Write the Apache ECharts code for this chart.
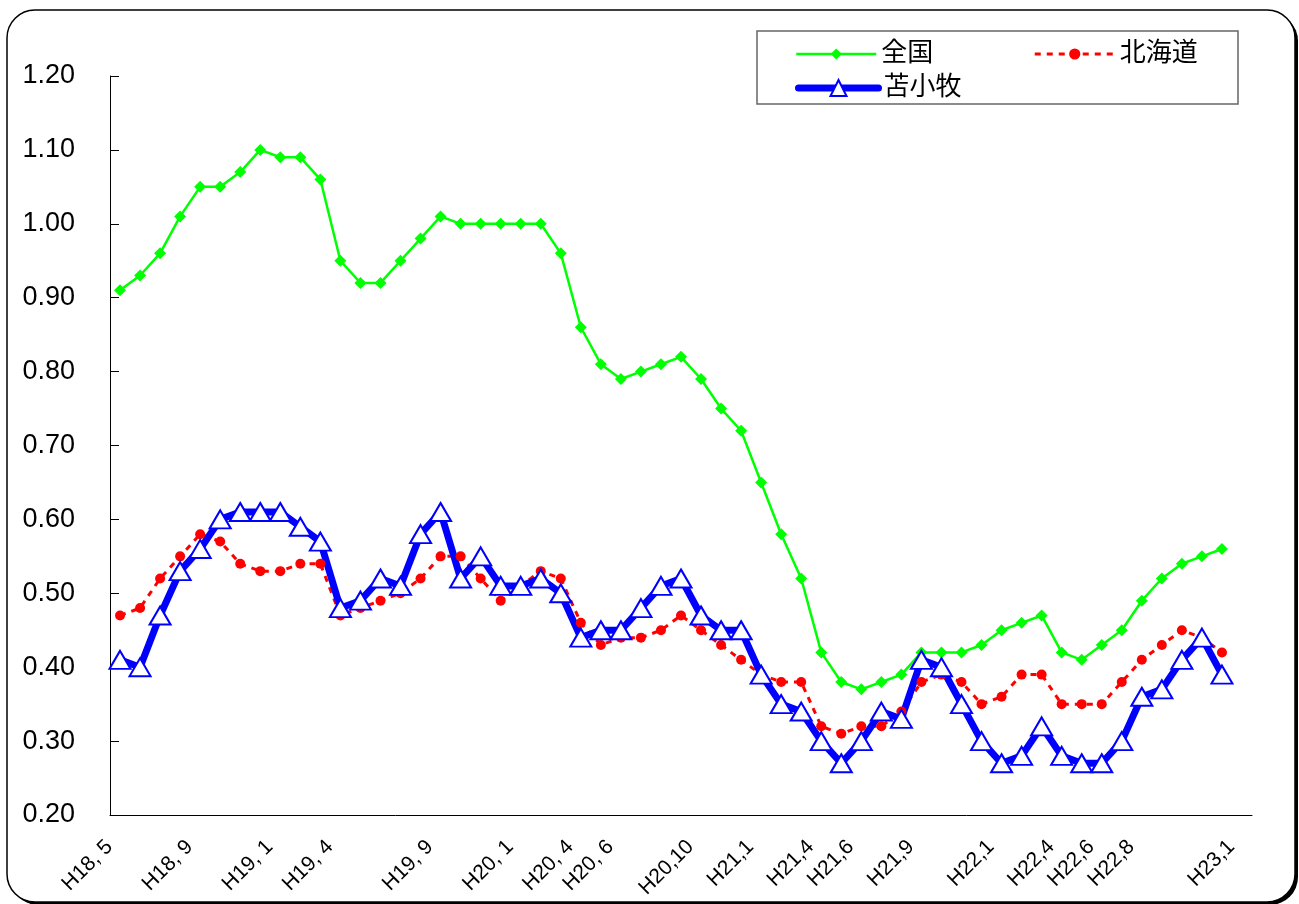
<!DOCTYPE html>
<html>
<head>
<meta charset="utf-8">
<script src="https://cdn.jsdelivr.net/npm/echarts@6/dist/echarts.min.js"></script>
<style>
html, body { margin: 0; padding: 0; background: #fff; }
#chart { width: 1299px; height: 904px; }
</style>
</head>
<body>
<div id="chart"></div>
<script>
// monthly categories H18,5 .. H23,1 (only some are labelled)
const months = [
  'H18, 5', '', '', '', 'H18, 9', '', '', '',
  'H19, 1', '', '', 'H19, 4', '', '', '', '',
  'H19, 9', '', '', '', 'H20, 1', '', '', 'H20, 4',
  '', 'H20, 6', '', '', '', 'H20,10', '', '',
  'H21,1', '', '', 'H21,4', '', 'H21,6', '', '',
  'H21,9', '', '', '', 'H22,1', '', '', 'H22,4',
  '', 'H22,6', '', 'H22,8', '', '', '', '',
  'H23,1'
]

const zenkoku = [
  0.91, 0.93, 0.96, 1.01, 1.05, 1.05, 1.07, 1.10,
  1.09, 1.09, 1.06, 0.95, 0.92, 0.92, 0.95, 0.98,
  1.01, 1.00, 1.00, 1.00, 1.00, 1.00, 0.96, 0.86,
  0.81, 0.79, 0.80, 0.81, 0.82, 0.79, 0.75, 0.72,
  0.65, 0.58, 0.52, 0.42, 0.38, 0.37, 0.38, 0.39,
  0.42, 0.42, 0.42, 0.43, 0.45, 0.46, 0.47, 0.42,
  0.41, 0.43, 0.45, 0.49, 0.52, 0.54, 0.55, 0.56
]

const hokkaido = [
  0.47, 0.48, 0.52, 0.55, 0.58, 0.57, 0.54, 0.53,
  0.53, 0.54, 0.54, 0.47, 0.48, 0.49, 0.50, 0.52,
  0.55, 0.55, 0.52, 0.49, 0.51, 0.53, 0.52, 0.46,
  0.43, 0.44, 0.44, 0.45, 0.47, 0.45, 0.43, 0.41,
  0.39, 0.38, 0.38, 0.32, 0.31, 0.32, 0.32, 0.34,
  0.38, 0.39, 0.38, 0.35, 0.36, 0.39, 0.39, 0.35,
  0.35, 0.35, 0.38, 0.41, 0.43, 0.45, 0.44, 0.42
]

const tomakomai = [
  0.41, 0.40, 0.47, 0.53, 0.56, 0.60, 0.61, 0.61,
  0.61, 0.59, 0.57, 0.48, 0.49, 0.52, 0.51, 0.58,
  0.61, 0.52, 0.55, 0.51, 0.51, 0.52, 0.50, 0.44,
  0.45, 0.45, 0.48, 0.51, 0.52, 0.47, 0.45, 0.45,
  0.39, 0.35, 0.34, 0.30, 0.27, 0.30, 0.34, 0.33,
  0.41, 0.40, 0.35, 0.30, 0.27, 0.28, 0.32, 0.28,
  0.27, 0.27, 0.30, 0.36, 0.37, 0.41, 0.44, 0.39
]

const FONT = "'Liberation Sans', 'Noto Sans CJK JP', sans-serif"
const legendText = { fontSize: 26, color: '#000', fontFamily: FONT }

const chart = echarts.init(document.getElementById('chart'))
chart.setOption({
  animation: false,
  graphic: [
    // outer frame with a small shadow, like the Excel chart area
    { type: 'rect', silent: true, shape: { x: 10, y: 13, width: 1288, height: 892, r: 28 }, style: { fill: '#000' } },
    { type: 'rect', silent: true, shape: { x: 7, y: 10, width: 1288, height: 892, r: 28 }, style: { fill: '#fff', stroke: '#000', lineWidth: 1.5 } },
    // legend box
    { type: 'rect', silent: true, shape: { x: 757, y: 31, width: 481, height: 73 }, style: { fill: '#fff', stroke: '#666', lineWidth: 1.5 } }
  ],
  legend: [
    {
      data: ['全国', '北海道'],
      left: 795,
      top: 41,
      padding: 0,
      itemWidth: 80,
      itemHeight: 14,
      itemGap: 100,
      itemTextGap: 8,
      selectedMode: false,
      lineStyle: { width: 'inherit' },
      textStyle: legendText
    },
    {
      data: ['苫小牧'],
      left: 795,
      top: 75,
      padding: 0,
      itemWidth: 80,
      itemHeight: 20,
      itemTextGap: 8,
      selectedMode: false,
      lineStyle: { width: 7, cap: 'round' },
      textStyle: legendText
    }
  ],
  grid: {
    left: 110,
    right: 47,
    top: 76,
    bottom: 89,
    containLabel: false
  },
  xAxis: {
    type: 'category',
    data: months,
    boundaryGap: true,
    axisLine: { lineStyle: { color: '#000', width: 1 } },
    axisTick: { inside: true, length: 6, interval: 0, lineStyle: { color: '#000' } },
    axisLabel: {
      interval: 0,
      rotate: 45,
      margin: 18,
      padding: [0, 15, 0, 0],
      fontSize: 21,
      color: '#000',
      fontFamily: FONT
    },
    splitLine: { show: false }
  },
  yAxis: {
    type: 'value',
    min: 0.2,
    max: 1.2,
    interval: 0.1,
    axisLine: { show: true, lineStyle: { color: '#000', width: 1 } },
    axisTick: { show: true, inside: true, length: 9, lineStyle: { color: '#000' } },
    axisLabel: {
      margin: 35,
      fontSize: 27,
      color: '#000',
      fontFamily: FONT,
      formatter: v => v.toFixed(2)
    },
    splitLine: { show: false }
  },
  series: [
    {
      name: '全国',
      type: 'line',
      data: zenkoku,
      symbol: 'diamond',
      symbolSize: 12,
      showAllSymbol: true,
      itemStyle: { color: '#00ff00' },
      lineStyle: { color: '#00ff00', width: 2.5 }
    },
    {
      name: '北海道',
      type: 'line',
      data: hokkaido,
      symbol: 'circle',
      symbolSize: 10,
      showAllSymbol: true,
      itemStyle: { color: '#ff0000' },
      lineStyle: { color: '#ff0000', width: 3, type: [6, 6] }
    },
    {
      name: '苫小牧',
      type: 'line',
      data: tomakomai,
      symbol: 'triangle',
      symbolSize: [21, 18],
      showAllSymbol: true,
      itemStyle: { color: '#fff', borderColor: '#0000ff', borderWidth: 2 },
      lineStyle: { color: '#0000ff', width: 7, cap: 'round', join: 'round' }
    }
  ]
})
</script>
</body>
</html>
